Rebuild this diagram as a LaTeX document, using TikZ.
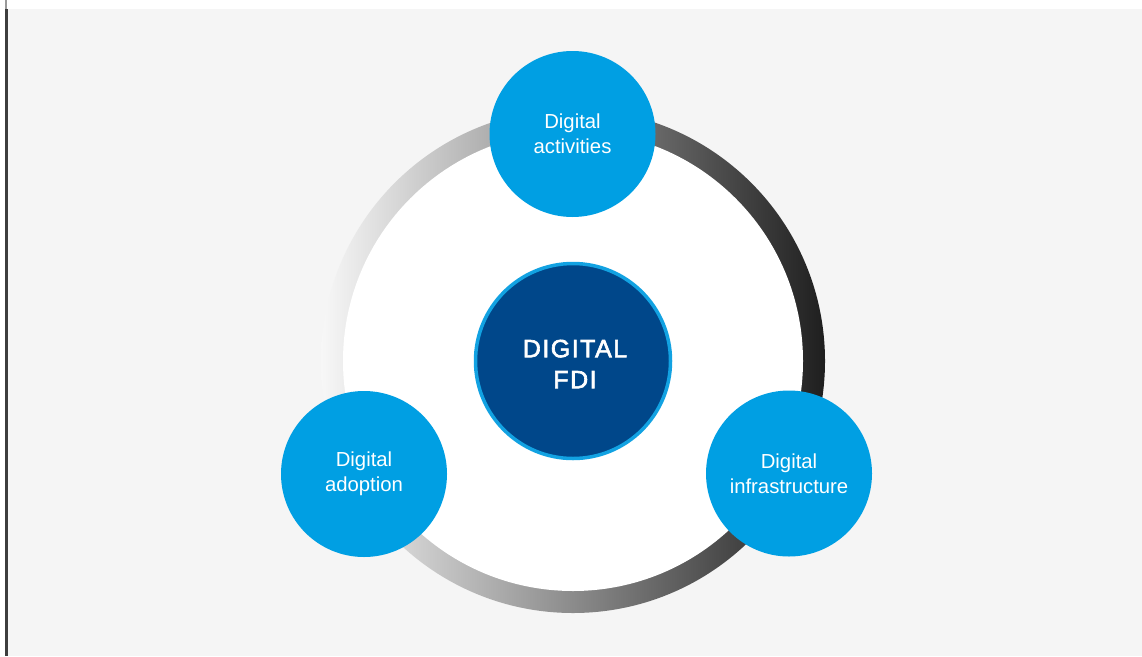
\documentclass[tikz,border=0pt]{standalone}
\usepackage{fontspec}
\setmainfont{Liberation Sans}
\newfontfamily\titlefont[LetterSpace=6,FakeBold=2.5]{Liberation Sans}
\definecolor{bg}{HTML}{F5F5F5}
\definecolor{bub}{HTML}{009FE3}
\definecolor{core}{HTML}{00478A}
\definecolor{coreedge}{HTML}{12A2E2}
\tikzset{
  bubble/.style={circle, fill=bub, minimum size=166pt, inner sep=0pt, text=white, align=center,
    font=\fontsize{20.3}{25}\selectfont},
  corenode/.style={circle, fill=core, draw=coreedge, line width=3.5pt, minimum size=195pt, inner sep=0pt},
  coretext/.style={text=white, align=center, inner sep=0pt, font=\titlefont\fontsize{25}{31}\selectfont}
}
\begin{document}
\begin{tikzpicture}[x=1pt,y=-1pt]
\useasboundingbox (0,0) rectangle (1142,656);
\fill[white] (0,0) rectangle (1142,656);
\fill[bg] (8,9) rectangle (1142,656);
\fill[black!40] (5,0) rectangle (6.5,9);
\fill[black!76] (5,9) rectangle (8,656);
\coordinate (c) at (573,361);
\shade[left color=white!97!black, right color=black!88] (c) circle (252pt);
\fill[white] (c) circle (230pt);
\node[corenode] (fdi) at (c) {};
\node[coretext] (fdilabel) at (575,364) {DIGITAL\\FDI};
\node[bubble] (act) at (572.5,134) {Digital\\activities};
\node[bubble] (adopt) at (364,474) {Digital\\adoption};
\node[bubble] (infra) at (789,473.5) {Digital\\infrastructure};
\end{tikzpicture}
\end{document}
